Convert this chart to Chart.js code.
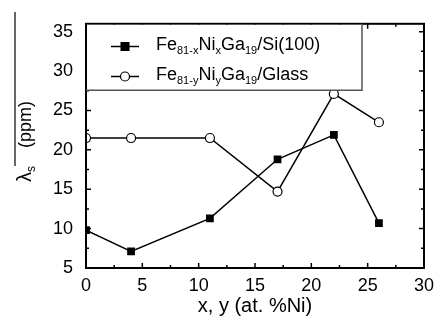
<!DOCTYPE html>
<html>
<head>
<meta charset="utf-8">
<script src="https://cdn.jsdelivr.net/npm/chart.js@4.4.1/dist/chart.umd.min.js"></script>
<style>
  html, body { margin: 0; padding: 0; background: #fff; }
  #wrap { width: 441px; height: 327px; position: relative; }
</style>
</head>
<body>
<div id="wrap"><canvas id="c"></canvas></div>
<script>
// Ni content (at. %)
const niContent = [0, 4, 11, 17, 22, 26];
// lambda_s on Si(100)
const siValues = [9.8, 7.1, 11.3, 18.8, 21.9, 10.7];
// lambda_s on glass
const glassValues = [21.5, 21.5, 21.5, 14.7, 27.1, 23.5];
const xTicks = [0, 5, 10, 15, 20, 25, 30];
const yTicks = [5, 10, 15, 20, 25, 30, 35];

const FONT = "'Liberation Sans', Arial, sans-serif";

// legend entries as runs of [text, isSubscript]
const legendItems = [
    { marker: 'square', runs: [['Fe', 0], ['81-x', 1], ['Ni', 0], ['x', 1], ['Ga', 0], ['19', 1], ['/Si(100)', 0]] },
    { marker: 'circle', runs: [['Fe', 0], ['81-y', 1], ['Ni', 0], ['y', 1], ['Ga', 0], ['19', 1], ['/Glass', 0]] }
];

function toPoints(xs, ys) {
    return xs.map((x, i) => ({ x: x, y: ys[i] }));
}

// inward ticks on all four sides + frame
const frameTicks = {
    id: 'frameTicks',
    afterDatasetsDraw(chart) {
        const { ctx, chartArea: a, scales } = chart;
        ctx.save();
        ctx.strokeStyle = '#000';
        ctx.lineWidth = 1.5;
        const xs = scales.x, ys = scales.y;
        for (let v = 0; v <= 30; v += 2.5) {
            const px = xs.getPixelForValue(v);
            const len = (v % 5 === 0) ? 5 : 3;
            ctx.beginPath();
            ctx.moveTo(px, a.bottom); ctx.lineTo(px, a.bottom - len);
            ctx.moveTo(px, a.top); ctx.lineTo(px, a.top + len);
            ctx.stroke();
        }
        for (let v = 5; v <= 36; v += 2.5) {
            const py = ys.getPixelForValue(v);
            const len = (v % 5 === 0) ? 5 : 3;
            ctx.beginPath();
            ctx.moveTo(a.left, py); ctx.lineTo(a.left + len, py);
            ctx.moveTo(a.right, py); ctx.lineTo(a.right - len, py);
            ctx.stroke();
        }
        ctx.lineWidth = 2;
        ctx.strokeRect(a.left, a.top, a.right - a.left, a.bottom - a.top);
        ctx.restore();
    }
};

function drawRuns(ctx, runs, x, y, size, subSize) {
    for (const [t, sub] of runs) {
        ctx.font = (sub ? subSize : size) + 'px ' + FONT;
        ctx.fillText(t, x, sub ? y + 4 : y);
        x += ctx.measureText(t).width;
    }
    return x;
}

function drawMarker(ctx, type, x, y) {
    ctx.lineWidth = 1.2;
    ctx.strokeStyle = '#000';
    if (type === 'square') {
        ctx.fillStyle = '#000';
        ctx.fillRect(x - 4.5, y - 4.5, 9, 9);
    } else {
        ctx.fillStyle = '#fff';
        ctx.beginPath();
        ctx.arc(x, y, 4.5, 0, Math.PI * 2);
        ctx.fill();
        ctx.stroke();
    }
}

const customLegend = {
    id: 'customLegend',
    afterDraw(chart) {
        const { ctx, chartArea: a } = chart;
        ctx.save();
        // box
        ctx.fillStyle = '#fff';
        ctx.fillRect(a.left + 1, a.top + 1, 275, 66);
        ctx.strokeStyle = '#555';
        ctx.lineWidth = 1.5;
        ctx.beginPath();
        ctx.moveTo(a.left, a.top + 66.5);
        ctx.lineTo(a.left + 276, a.top + 66.5);
        ctx.lineTo(a.left + 276, a.top);
        ctx.stroke();
        ctx.textBaseline = 'alphabetic';
        legendItems.forEach((item, i) => {
            const y = a.top + 22.7 + i * 30;
            ctx.strokeStyle = '#000';
            ctx.lineWidth = 1.5;
            ctx.beginPath();
            ctx.moveTo(a.left + 25, y); ctx.lineTo(a.left + 53, y);
            ctx.stroke();
            drawMarker(ctx, item.marker, a.left + 39, y);
            ctx.fillStyle = '#000';
            drawRuns(ctx, item.runs, a.left + 70, y + 3.5, 18, 11);
        });
        ctx.restore();
    }
};

// rotated y title with overline
const yTitle = {
    id: 'yTitle',
    afterDraw(chart) {
        const { ctx } = chart;
        ctx.save();
        ctx.translate(31, 182);
        ctx.rotate(-Math.PI / 2);
        ctx.fillStyle = '#000';
        ctx.textBaseline = 'alphabetic';
        drawRuns(ctx, [['λ', 0], ['s', 1]], 0, 0, 20, 12);
        ctx.font = '18px ' + FONT;
        ctx.fillText('(ppm)', 34, 0);
        ctx.restore();
        ctx.save();
        ctx.strokeStyle = '#000';
        ctx.lineWidth = 1.2;
        ctx.beginPath();
        ctx.moveTo(15, 12); ctx.lineTo(15, 166);
        ctx.stroke();
        ctx.restore();
    }
};

new Chart(document.getElementById('c'), {
    type: 'scatter',
    data: {
        datasets: [
            {
                label: 'Si(100)',
                data: toPoints(niContent, siValues),
                showLine: true,
                borderColor: '#000',
                borderWidth: 1.5,
                backgroundColor: '#000',
                pointStyle: 'rect',
                pointRadius: 5.5,
                pointBorderWidth: 0
            },
            {
                label: 'Glass',
                data: toPoints(niContent, glassValues),
                showLine: true,
                borderColor: '#000',
                borderWidth: 1.5,
                backgroundColor: '#fff',
                pointStyle: 'circle',
                pointRadius: 4.5,
                pointBorderWidth: 1.2
            }
        ]
    },
    options: {
        responsive: true,
        maintainAspectRatio: false,
        animation: false,
        layout: { padding: { top: 14, right: 11, left: 0, bottom: 0 } },
        plugins: {
            legend: { display: false },
            tooltip: { enabled: false }
        },
        scales: {
            x: {
                type: 'linear',
                min: 0,
                max: 30,
                afterFit: s => { s.height = 59; },
                afterBuildTicks: s => { s.ticks = xTicks.map(v => ({ value: v })); },
                grid: { display: false, drawTicks: false },
                border: { display: false },
                ticks: { color: '#000', padding: 7, font: { family: FONT, size: 18 } },
                title: {
                    display: true,
                    text: 'x, y (at. %Ni)',
                    color: '#000',
                    padding: { top: 0, bottom: 9 },
                    font: { family: FONT, size: 20 }
                }
            },
            y: {
                type: 'linear',
                min: 5,
                max: 36,
                afterFit: s => { s.width = 86; },
                afterBuildTicks: s => { s.ticks = yTicks.map(v => ({ value: v })); },
                grid: { display: false, drawTicks: false },
                border: { display: false },
                ticks: { color: '#000', padding: 13, font: { family: FONT, size: 18 } }
            }
        }
    },
    plugins: [frameTicks, customLegend, yTitle]
});
</script>
</body>
</html>
